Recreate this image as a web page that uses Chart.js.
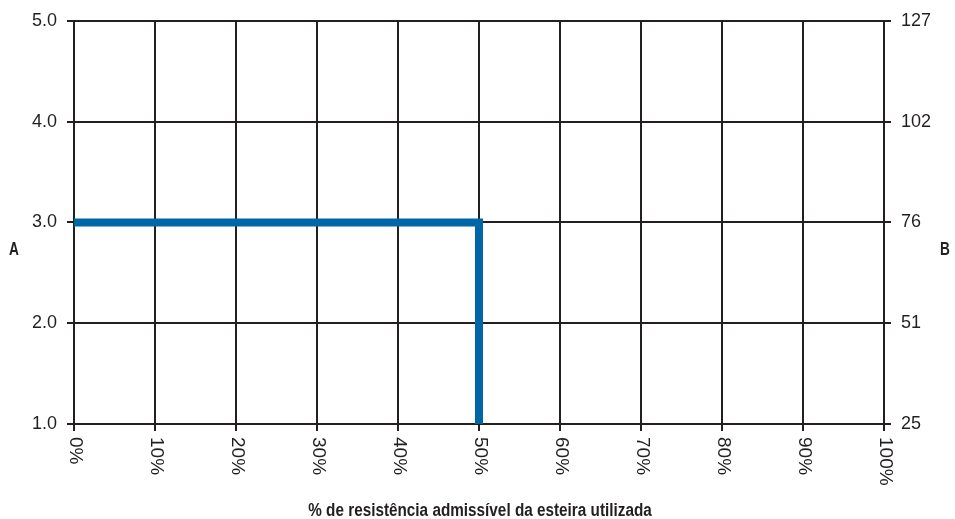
<!DOCTYPE html>
<html>
<head>
<meta charset="utf-8">
<script src="https://cdn.jsdelivr.net/npm/chart.js@4.4.0/dist/chart.umd.min.js"></script>
<style>
  html, body { margin: 0; padding: 0; background: #fff; }
  #wrap { width: 955px; height: 519px; position: relative; }
</style>
</head>
<body>
<div id="wrap"><canvas id="chart"></canvas></div>
<script>
// x: % of allowable belt strength used, y: A (left) / B (right)
const xValues = [0, 50, 50];
const yValues = [3.0, 3.0, 1.0];

const xTicks = [0, 10, 20, 30, 40, 50, 60, 70, 80, 90, 100];
const xTickLabels = ['0%', '10%', '20%', '30%', '40%', '50%', '60%', '70%', '80%', '90%', '100%'];
const leftTicks = [1, 2, 3, 4, 5];
const rightTicks = [25.4, 50.8, 76.2, 101.6, 127];
const rightTickLabels = ['25', '51', '76', '102', '127'];

const xTitle = '% de resistência admissível da esteira utilizada';
const leftTitle = 'A';
const rightTitle = 'B';

const ink = '#231f20';
const tickFont = { family: "'Liberation Sans', Arial, sans-serif", size: 18 };

// draws bold text squeezed horizontally, to look like a condensed face
function condensedText(ctx, text, x, y, squeeze) {
    ctx.save();
    ctx.translate(x, y);
    ctx.scale(squeeze, 1);
    ctx.fillText(text, 0, 0);
    ctx.restore();
}

// rotated x labels (read top to bottom) and the side titles
const labelsPlugin = {
    id: 'labels',
    afterDraw(chart) {
        const ctx = chart.ctx;
        const xs = chart.scales.x;
        const area = chart.chartArea;
        ctx.save();
        ctx.fillStyle = ink;
        ctx.font = "19px 'Liberation Sans', Arial, sans-serif";
        xTicks.forEach((v, i) => {
            const px = xs.getPixelForValue(v);
            ctx.save();
            ctx.translate(px + 1, area.bottom + 13);
            ctx.rotate(Math.PI / 2);
            ctx.textAlign = 'left';
            ctx.textBaseline = 'middle';
            ctx.fillText(xTickLabels[i], 0, 0);
            ctx.restore();
        });

        ctx.font = "bold 18px 'Liberation Sans', Arial, sans-serif";
        ctx.textAlign = 'center';
        ctx.textBaseline = 'alphabetic';
        condensedText(ctx, xTitle, (area.left + area.right) / 2 + 1, 516, 0.85);

        ctx.font = "bold 19px 'Liberation Sans', Arial, sans-serif";
        condensedText(ctx, leftTitle, 14, 255, 0.72);
        condensedText(ctx, rightTitle, 945, 255, 0.72);
        ctx.restore();
    }
};

new Chart(document.getElementById('chart'), {
    type: 'line',
    data: {
        datasets: [{
            data: xValues.map((x, i) => ({ x: x, y: yValues[i] })),
            borderColor: '#0067a6',
            borderWidth: 8,
            pointRadius: 0,
            tension: 0,
            borderJoinStyle: 'miter',
            yAxisID: 'y'
        }]
    },
    options: {
        responsive: true,
        maintainAspectRatio: false,
        animation: false,
        layout: { padding: { top: 20, left: 0, right: 0, bottom: 0 } },
        plugins: {
            legend: { display: false },
            tooltip: { enabled: false }
        },
        scales: {
            x: {
                type: 'linear',
                min: 0,
                max: 100,
                afterBuildTicks: (s) => { s.ticks = xTicks.map(v => ({ value: v })); },
                ticks: { display: false },
                grid: { color: ink, lineWidth: 2, tickLength: 7, drawTicks: true },
                border: { color: ink, width: 2 },
                afterFit: (s) => { s.height = 95; }
            },
            y: {
                type: 'linear',
                position: 'left',
                min: 1,
                max: 5,
                afterBuildTicks: (s) => { s.ticks = leftTicks.map(v => ({ value: v })); },
                ticks: {
                    color: ink,
                    font: tickFont,
                    padding: 10,
                    callback: (v) => v.toFixed(1)
                },
                grid: { color: ink, lineWidth: 2, tickLength: 7 },
                border: { color: ink, width: 2 },
                afterFit: (s) => { s.width = 74; }
            },
            y2: {
                type: 'linear',
                position: 'right',
                min: 25.4,
                max: 127,
                afterBuildTicks: (s) => { s.ticks = rightTicks.map(v => ({ value: v })); },
                ticks: {
                    color: ink,
                    font: tickFont,
                    padding: 10,
                    callback: (v) => rightTickLabels[rightTicks.indexOf(v)]
                },
                grid: { color: ink, lineWidth: 2, tickLength: 7, drawOnChartArea: false },
                border: { color: ink, width: 2 },
                afterFit: (s) => { s.width = 71; }
            }
        }
    },
    plugins: [labelsPlugin]
});
</script>
</body>
</html>
